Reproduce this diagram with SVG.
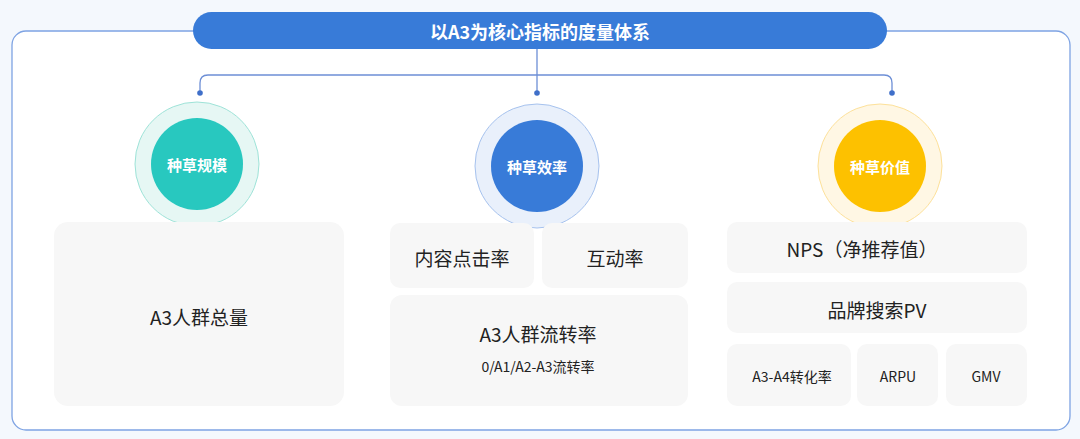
<svg xmlns="http://www.w3.org/2000/svg" width="1080" height="439" viewBox="0 0 1080 439">
<style>
text{font-family:"Noto Sans CJK SC","Noto Sans",sans-serif;text-anchor:middle;dominant-baseline:central}
.box{fill:#f7f7f7}
.t{font-size:19px;fill:#222}
.s{font-size:14px;fill:#222}
.c{font-size:15px;fill:#fff;font-weight:bold}
.ln{fill:none;stroke:#6d8fd6;stroke-width:1.3}
</style>
<rect width="1080" height="439" fill="#f4f8fd"/>
<rect x="12" y="31" width="1058" height="399" rx="14" fill="#fff" stroke="#7ea3e3" stroke-width="1.3"/>
<g id="title"><rect x="193" y="12" width="694" height="37" rx="18.5" fill="#387bd8"/><text x="540" y="31" style="font-size:18px;fill:#fff;font-weight:bold">以A3为核心指标的度量体系</text></g>
<g id="connectors">
<path class="ln" d="M537 49V75M200 92V83Q200 75 208 75H884Q892 75 892 83V92"/>
<path class="ln" d="M537 75V92"/>
<circle cx="200" cy="93" r="2.8" fill="#3f6fc9"/><circle cx="537" cy="93" r="2.8" fill="#3f6fc9"/><circle cx="892" cy="93" r="2.8" fill="#3f6fc9"/>
</g>
<g id="n1"><circle cx="197" cy="164" r="62" fill="#e6f7f4" stroke="#9ee3d8"/><circle cx="197" cy="164" r="46" fill="#28c8bf"/><text class="c" x="197" y="164">种草规模</text></g>
<g id="n2"><circle cx="537" cy="166" r="62" fill="#e9f0fb" stroke="#a6c2ee"/><circle cx="537" cy="166" r="46" fill="#387bd8"/><text class="c" x="537" y="166">种草效率</text></g>
<g id="n3"><circle cx="880" cy="166" r="62" fill="#fff7e4" stroke="#fde19a"/><circle cx="880" cy="166" r="46" fill="#fdc100"/><text class="c" x="880" y="166">种草价值</text></g>
<g id="b1"><rect class="box" x="54" y="222" width="290" height="184" rx="14"/><text class="t" x="199" y="316">A3人群总量</text></g>
<g id="b2"><rect class="box" x="390" y="223" width="144" height="65" rx="10"/><text class="t" x="462" y="257">内容点击率</text></g>
<g id="b3"><rect class="box" x="542" y="223" width="146" height="65" rx="10"/><text class="t" x="615" y="257">互动率</text></g>
<g id="b4"><rect class="box" x="390" y="295" width="298" height="111" rx="12"/><text class="t" x="538" y="333">A3人群流转率</text><text class="s" x="538" y="366">0/A1/A2-A3流转率</text></g>
<g id="b5"><rect class="box" x="727" y="222" width="300" height="51" rx="10"/><text class="t" x="862" y="248">NPS（净推荐值）</text></g>
<g id="b6"><rect class="box" x="727" y="282" width="300" height="51" rx="10"/><text class="t" x="877" y="309">品牌搜索PV</text></g>
<g id="b7"><rect class="box" x="727" y="344" width="124" height="62" rx="10"/><text class="s" x="792" y="376">A3-A4转化率</text></g>
<g id="b8"><rect class="box" x="857" y="344" width="81" height="62" rx="10"/><text class="s" x="898" y="376">ARPU</text></g>
<g id="b9"><rect class="box" x="946" y="344" width="81" height="62" rx="10"/><text class="s" x="986" y="376">GMV</text></g>
</svg>
